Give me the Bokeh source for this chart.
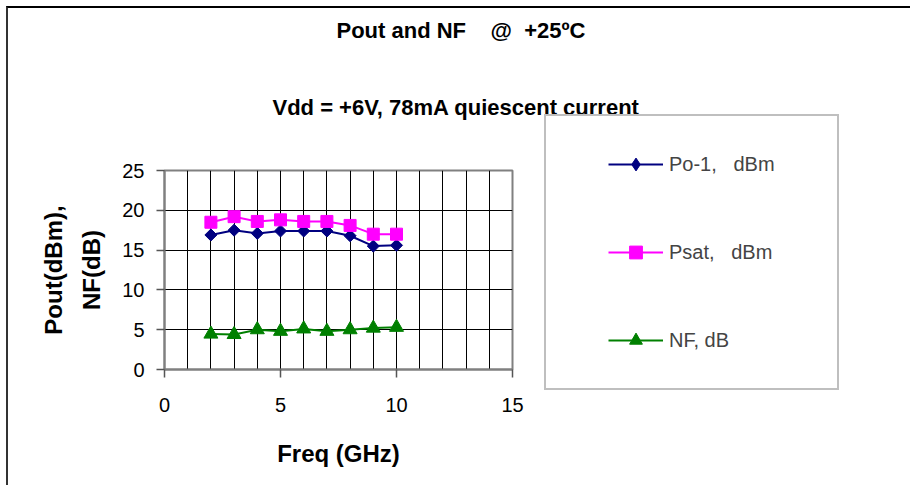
from bokeh.plotting import figure
from bokeh.models import (Legend, LegendItem, Title, FixedTicker, SingleIntervalTicker,
                          Range1d, InlineStyleSheet)
from bokeh.embed import file_html
from bokeh.resources import INLINE
import math

# ---- data ----
freq = [2, 3, 4, 5, 6, 7, 8, 9, 10]
po1 = [16.9, 17.5, 17.1, 17.4, 17.4, 17.4, 16.8, 15.5, 15.6]
psat = [18.5, 19.2, 18.6, 18.8, 18.6, 18.6, 18.1, 17.0, 17.0]
nf = [4.45, 4.4, 5.0, 4.8, 5.1, 4.8, 5.0, 5.2, 5.3]
x_ticks = [0, 5, 10, 15]
y_ticks = [0, 5, 10, 15, 20, 25]
NB = "\u00a0"
series_names = ["Po-1," + NB * 3 + "dBm", "Psat," + NB * 3 + "dBm", "NF, dB"]
title1 = "Pout and NF" + NB * 4 + "@" + NB * 2 + "+25ºC"
title2 = "Vdd = +6V, 78mA quiescent current"
xlabel = "Freq (GHz)"
ylabel = "Pout(dBm),\nNF(dB)"

FONT = "Liberation Sans"

FL, FT, FW, FH = 164, 170, 348, 199
W, H = 894, 485

p = figure(frame_width=FW, frame_height=FH,
           min_border_left=FL, min_border_right=W - FL - FW,
           min_border_top=FT, min_border_bottom=H - FT - FH,
           x_range=Range1d(0, 15), y_range=Range1d(0, 25),
           output_backend="svg", toolbar_location=None,
           background_fill_color="white", border_fill_color="white")

p.stylesheets = [InlineStyleSheet(css=(
    ":host::after { content: ''; position: absolute; left: 6px; top: 6px; "
    "right: 0px; bottom: 0px; border-left: 2px solid #333; border-top: 2px solid #000; "
    "pointer-events: none; }"))]

p.outline_line_color = "#808080"
p.outline_line_width = 2

for ax, ticks in ((p.xaxis[0], x_ticks), (p.yaxis[0], y_ticks)):
    ax.ticker = FixedTicker(ticks=ticks)
    ax.axis_line_color = "#808080"
    ax.axis_line_width = 2
    ax.major_tick_line_color = "#555555"
    ax.major_tick_line_width = 1.5
    ax.major_tick_in = 0
    ax.major_tick_out = 8
    ax.minor_tick_line_color = None
    ax.major_label_text_font = FONT
    ax.major_label_text_font_size = "20px"
    ax.major_label_text_color = "black"
    ax.axis_label_text_font = FONT
    ax.axis_label_text_font_size = "24px"
    ax.axis_label_text_font_style = "bold"
    ax.axis_label_text_color = "black"
p.xaxis.major_label_standoff = 20
p.yaxis.major_label_standoff = 12
p.xaxis.axis_label = xlabel
p.xaxis.axis_label_standoff = 25
p.yaxis.axis_label = ylabel
p.yaxis.axis_label_standoff = 14
p.yaxis.axis_label_text_line_height = 1.4

p.xgrid.ticker = SingleIntervalTicker(interval=1)
p.ygrid.ticker = FixedTicker(ticks=y_ticks)
p.grid.grid_line_color = "black"
p.grid.grid_line_width = 1

# series
NAVY, MAG, GRN = "#000080", "#FF00FF", "#008000"
l1 = p.line(freq, po1, line_color=NAVY, line_width=2)
s1 = p.scatter(freq, po1, marker="square", size=8.5, angle=math.pi / 4,
               fill_color=NAVY, line_color=NAVY)
l2 = p.line(freq, psat, line_color=MAG, line_width=2)
s2 = p.scatter(freq, psat, marker="square", size=12, fill_color=MAG, line_color=MAG)
l3 = p.line(freq, nf, line_color=GRN, line_width=2)
s3 = p.scatter(freq, nf, marker="triangle", size=14, fill_color=GRN, line_color=GRN)
# legend-only diamond glyph (a single NaN point, nothing drawn in the plot)
k1 = p.scatter(x=[float("nan")], y=[float("nan")], marker="diamond", size=14,
               fill_color=NAVY, line_color=NAVY)

items = [LegendItem(label=series_names[0], renderers=[l1, k1]),
         LegendItem(label=series_names[1], renderers=[l2, s2]),
         LegendItem(label=series_names[2], renderers=[l3, s3])]
common = dict(items=items, location=(32, -21), margin=0, glyph_width=55,
              glyph_height=32, label_height=32, label_standoff=6,
              label_text_font=FONT, label_text_font_size="20px",
              border_line_color="#808080", border_line_width=2,
              background_fill_color="white", background_fill_alpha=1)
try:
    leg = Legend(padding=(62, 32), spacing=56, label_width=100, **common)
except Exception:
    leg = Legend(padding=40, spacing=56, label_width=154, **common)
p.add_layout(leg, "right")

# titles (first added sits nearest the frame)
p.title = None
t2 = Title(text=title2, align="left", offset=108,
           text_font=FONT, text_font_size="22px",
           text_font_style="bold", text_color="black", standoff=101)
t1 = Title(text=title1, align="left", offset=172,
           text_font=FONT, text_font_size="22px",
           text_font_style="bold", text_color="black", standoff=0)
p.add_layout(t2, "above")
p.add_layout(t1, "above")

open("out.html", "w").write(file_html(p, INLINE))
